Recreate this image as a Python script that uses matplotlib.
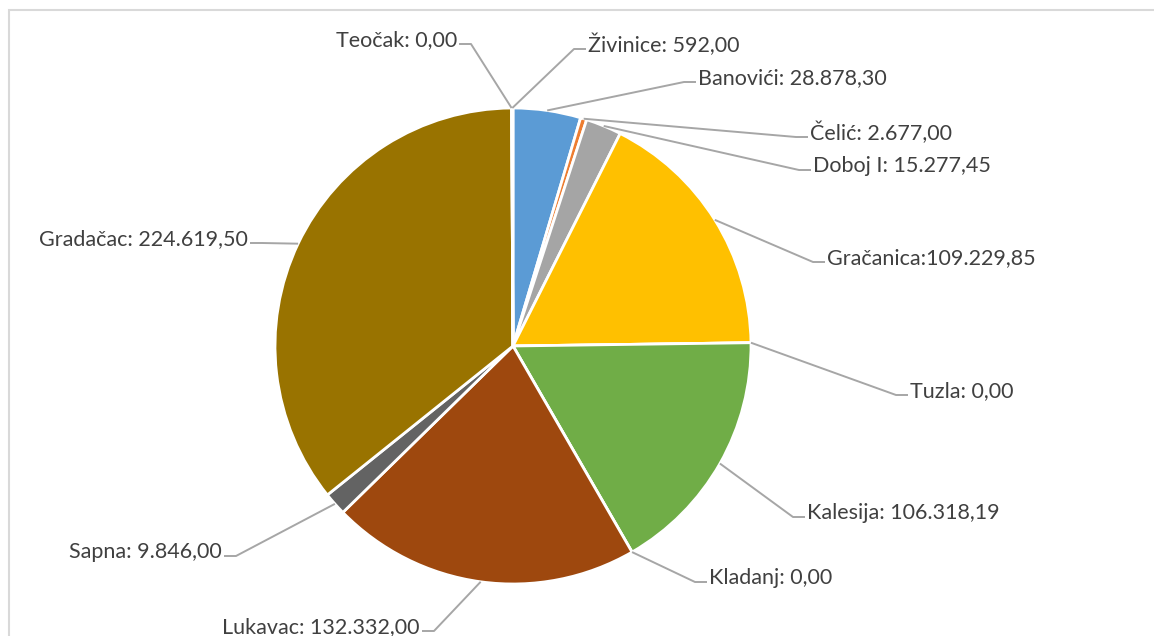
import numpy as np
import matplotlib
matplotlib.use("Agg")
import matplotlib.pyplot as plt
from matplotlib.patches import Rectangle

# podaci (redoslijed kao u Excel grafikonu, kazaljke na satu od 12h)
opcine = ['Banovići', 'Čelić', 'Doboj I', 'Gračanica', 'Tuzla', 'Kalesija',
          'Kladanj', 'Lukavac', 'Sapna', 'Gradačac', 'Teočak', 'Živinice']
iznosi = [28878.30, 2677.00, 15277.45, 109229.85, 0.00, 106318.19,
          0.00, 132332.00, 9846.00, 224619.50, 0.00, 592.00]
separatori = [': ', ': ', ': ', ':', ': ', ': ', ': ', ': ', ': ', ': ', ': ', ': ']
boje = ['#5B9BD5', '#ED7D31', '#A5A5A5', '#FFC000', '#4472C4', '#70AD47',
        '#255E91', '#9E480E', '#636363', '#997300', '#264478', '#43682B']

# raspored natpisa u pikselima (x, y sredina teksta, poravnanje)
W, H = 1154, 636
CX, CY, R = 513, 346, 238
natpisi_xy = [(698, 78, 'left'), (810, 133, 'left'), (813, 166, 'left'),
              (827, 258, 'left'), (910, 391, 'left'), (807, 513, 'left'),
              (709, 578, 'left'), (420, 627, 'right'), (222, 552, 'right'),
              (248, 239, 'right'), (457, 40, 'right'), (588, 45, 'left')]


def format_bs(v):
    s = f"{v:,.2f}"
    return s.replace(',', 'X').replace('.', ',').replace('X', '.')


plt.rcParams['font.family'] = ['Lato', 'DejaVu Sans']

fig = plt.figure(figsize=(W / 100, H / 100), dpi=100)
ax = fig.add_axes([0, 0, 1, 1])

ax.pie(iznosi, colors=boje, startangle=90, counterclock=False,
       center=(CX, H - CY), radius=R,
       wedgeprops=dict(edgecolor='white', linewidth=2))

ax.set_xlim(0, W)
ax.set_ylim(0, H)
ax.set_aspect('equal')
ax.axis('off')

# linije i natpisi
ukupno = sum(iznosi)
kum = np.cumsum([0] + iznosi)
for i, ime in enumerate(opcine):
    sredina = (kum[i] + kum[i + 1]) / 2 / ukupno * 2 * np.pi
    ax_x = CX + R * np.sin(sredina)
    ax_y = H - (CY - R * np.cos(sredina))
    tx, ty, ha = natpisi_xy[i]
    ty = H - ty
    smjer = -1 if ha == 'left' else 1
    lakat = (tx + smjer * 14, ty - 4)
    kraj = (tx + smjer * 2, ty - 4)
    ax.plot([ax_x, lakat[0], kraj[0]], [ax_y, lakat[1], kraj[1]],
            color='#A6A6A6', lw=1.4, solid_capstyle='butt', zorder=1)
    ax.text(tx, ty, ime + separatori[i] + format_bs(iznosi[i]),
            ha=ha, va='center', fontsize=15.5, color='#404040')

# okvir grafikona
fig.patches.append(Rectangle((9 / W, -0.1), 1.2, (H - 10) / H + 0.1,
                             transform=fig.transFigure, fill=False,
                             edgecolor='#D9D9D9', linewidth=1.5))

plt.savefig('out.png', dpi=100)
